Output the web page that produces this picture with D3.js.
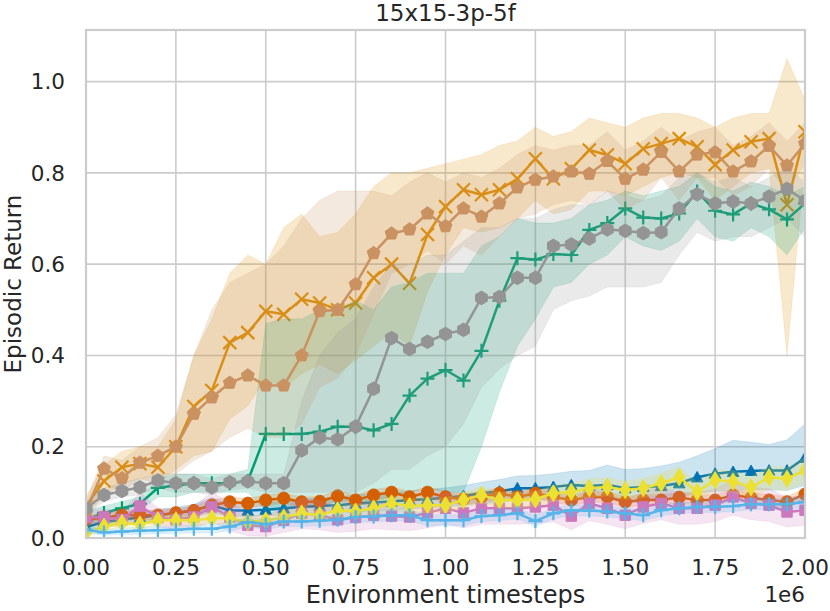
<!DOCTYPE html>
<html lang="en">
<head>
<meta charset="UTF-8">
<title>15x15-3p-5f</title>
<script src="https://d3js.org/d3.v7.min.js"></script>
<style>
    body { margin: 0; background: #fff; }
    svg { display: block; }
    text { font-family: "DejaVu Sans", sans-serif; fill: #262626; }
    .grid line { stroke: #cccccc; stroke-width: 1.6; }
</style>
</head>
<body>
<script>
// timesteps, in units of 1e6
const steps = [0, 0.05, 0.1, 0.15, 0.2, 0.25, 0.3, 0.35, 0.4, 0.45, 0.5, 0.55, 0.6, 0.65, 0.7, 0.75, 0.8, 0.85, 0.9, 0.95,
    1.0, 1.05, 1.1, 1.15, 1.2, 1.25, 1.3, 1.35, 1.4, 1.45, 1.5, 1.55, 1.6, 1.65, 1.7, 1.75, 1.8, 1.85, 1.9, 1.95, 2.0];

const xTicks = [0, 0.25, 0.5, 0.75, 1.0, 1.25, 1.5, 1.75, 2.0];
const yTicks = [0, 0.2, 0.4, 0.6, 0.8, 1.0];

// blue triangles
const blueMean = [0.024,0.035,0.040,0.045,0.050,0.055,0.060,0.072,0.060,0.060,0.062,0.065,0.068,0.070,0.072,0.075,0.078,0.080,0.083,0.085,0.088,0.092,0.098,0.102,0.109,0.109,0.112,0.116,0.114,0.116,0.109,0.112,0.114,0.120,0.133,0.141,0.145,0.147,0.148,0.148,0.176];
const blueLo = [0.015,0.025,0.030,0.033,0.038,0.042,0.046,0.055,0.047,0.047,0.048,0.050,0.052,0.054,0.055,0.058,0.060,0.062,0.064,0.066,0.068,0.071,0.076,0.078,0.083,0.083,0.085,0.088,0.086,0.088,0.082,0.085,0.086,0.090,0.098,0.102,0.104,0.106,0.105,0.104,0.115];
const blueHi = [0.034,0.045,0.051,0.057,0.062,0.068,0.074,0.089,0.074,0.074,0.077,0.081,0.085,0.087,0.090,0.094,0.097,0.099,0.103,0.106,0.110,0.115,0.122,0.128,0.136,0.137,0.141,0.146,0.148,0.160,0.150,0.152,0.158,0.166,0.180,0.196,0.214,0.210,0.205,0.215,0.250];

// orange crosses
const orangeMean = [0.070,0.125,0.155,0.163,0.155,0.200,0.288,0.323,0.428,0.450,0.497,0.490,0.523,0.515,0.500,0.515,0.570,0.600,0.558,0.665,0.726,0.763,0.752,0.763,0.787,0.831,0.787,0.809,0.850,0.839,0.820,0.853,0.864,0.875,0.857,0.818,0.850,0.868,0.875,0.730,0.890];
const orangeLo = [0.050,0.090,0.120,0.130,0.120,0.150,0.180,0.190,0.260,0.290,0.350,0.330,0.360,0.380,0.360,0.390,0.420,0.450,0.420,0.540,0.620,0.680,0.670,0.680,0.700,0.740,0.710,0.720,0.760,0.760,0.750,0.770,0.790,0.800,0.790,0.740,0.770,0.800,0.810,0.400,0.820];
const orangeHi = [0.090,0.160,0.190,0.200,0.200,0.260,0.400,0.480,0.580,0.620,0.600,0.680,0.710,0.660,0.670,0.710,0.770,0.800,0.800,0.810,0.820,0.830,0.840,0.860,0.870,0.900,0.880,0.890,0.920,0.910,0.900,0.920,0.930,0.930,0.920,0.900,0.920,0.930,0.930,1.050,0.960];

// green pluses
const greenMean = [0.040,0.055,0.065,0.075,0.110,0.115,0.120,0.120,0.120,0.125,0.228,0.228,0.228,0.233,0.244,0.244,0.236,0.250,0.312,0.349,0.368,0.345,0.410,0.520,0.613,0.610,0.622,0.620,0.675,0.690,0.722,0.702,0.700,0.711,0.759,0.717,0.709,0.733,0.720,0.698,0.733];
const greenLo = [0.020,0.040,0.050,0.060,0.090,0.090,0.100,0.100,0.100,0.100,0.060,0.060,0.070,0.070,0.080,0.080,0.080,0.090,0.100,0.110,0.100,0.100,0.200,0.320,0.420,0.480,0.550,0.560,0.600,0.620,0.660,0.640,0.630,0.650,0.700,0.660,0.650,0.680,0.660,0.620,0.680];
const greenHi = [0.060,0.070,0.080,0.090,0.130,0.140,0.140,0.140,0.140,0.150,0.470,0.480,0.480,0.500,0.500,0.520,0.500,0.550,0.560,0.580,0.580,0.580,0.640,0.660,0.700,0.690,0.690,0.700,0.730,0.740,0.760,0.750,0.760,0.770,0.800,0.770,0.760,0.780,0.770,0.750,0.770];

// vermilion circles
const redMean = [0.040,0.045,0.050,0.050,0.050,0.055,0.060,0.072,0.079,0.076,0.083,0.087,0.079,0.080,0.092,0.083,0.094,0.100,0.090,0.100,0.090,0.085,0.090,0.098,0.090,0.098,0.090,0.083,0.090,0.090,0.079,0.083,0.083,0.089,0.083,0.083,0.094,0.088,0.083,0.079,0.096];
const redLo = [0.030,0.036,0.040,0.040,0.040,0.045,0.050,0.060,0.068,0.065,0.072,0.076,0.068,0.069,0.080,0.072,0.082,0.088,0.078,0.088,0.078,0.073,0.078,0.086,0.078,0.086,0.078,0.071,0.078,0.078,0.067,0.071,0.071,0.077,0.071,0.071,0.082,0.076,0.071,0.067,0.084];
const redHi = [0.050,0.054,0.060,0.060,0.060,0.065,0.070,0.084,0.090,0.087,0.094,0.098,0.090,0.091,0.104,0.094,0.106,0.112,0.102,0.112,0.102,0.097,0.102,0.110,0.102,0.110,0.102,0.095,0.102,0.102,0.091,0.095,0.095,0.101,0.095,0.095,0.106,0.100,0.095,0.091,0.108];

// pink squares
const pinkMean = [0.045,0.046,0.040,0.070,0.045,0.040,0.046,0.068,0.046,0.028,0.025,0.039,0.054,0.050,0.040,0.045,0.050,0.048,0.046,0.055,0.065,0.055,0.065,0.065,0.065,0.068,0.072,0.048,0.076,0.065,0.050,0.068,0.076,0.065,0.065,0.072,0.090,0.076,0.072,0.057,0.061];
const pinkLo = [0.030,0.028,0.022,0.040,0.024,0.018,0.022,0.035,0.015,0.005,0.004,0.012,0.020,0.018,0.012,0.015,0.020,0.018,0.016,0.022,0.030,0.022,0.030,0.030,0.030,0.032,0.035,0.018,0.038,0.030,0.020,0.032,0.040,0.030,0.030,0.036,0.050,0.040,0.036,0.024,0.028];
const pinkHi = [0.060,0.064,0.058,0.100,0.066,0.062,0.070,0.100,0.078,0.052,0.048,0.066,0.088,0.082,0.068,0.075,0.080,0.078,0.076,0.088,0.100,0.088,0.100,0.100,0.100,0.104,0.108,0.080,0.112,0.100,0.082,0.104,0.112,0.100,0.100,0.108,0.128,0.112,0.108,0.090,0.094];

// tan pentagons
const tanMean = [0.060,0.152,0.131,0.165,0.180,0.200,0.272,0.308,0.340,0.356,0.334,0.334,0.400,0.497,0.500,0.556,0.624,0.667,0.676,0.711,0.683,0.722,0.704,0.733,0.768,0.785,0.792,0.803,0.798,0.826,0.787,0.807,0.846,0.803,0.840,0.845,0.803,0.825,0.859,0.816,0.864];
const tanLo = [0.040,0.120,0.100,0.130,0.140,0.140,0.170,0.190,0.220,0.240,0.220,0.220,0.250,0.330,0.350,0.400,0.490,0.580,0.600,0.630,0.600,0.640,0.620,0.660,0.700,0.710,0.730,0.740,0.730,0.760,0.720,0.740,0.790,0.740,0.790,0.790,0.750,0.770,0.810,0.760,0.820];
const tanHi = [0.080,0.180,0.170,0.200,0.220,0.270,0.400,0.500,0.560,0.580,0.600,0.640,0.700,0.740,0.760,0.760,0.760,0.750,0.780,0.800,0.780,0.800,0.790,0.810,0.840,0.860,0.850,0.860,0.860,0.890,0.850,0.870,0.900,0.870,0.890,0.900,0.860,0.880,0.910,0.870,0.910];

// gray hexagons
const grayMean = [0.065,0.094,0.103,0.111,0.126,0.120,0.120,0.111,0.122,0.124,0.120,0.120,0.192,0.220,0.216,0.244,0.327,0.438,0.414,0.430,0.447,0.456,0.526,0.528,0.570,0.570,0.640,0.643,0.656,0.676,0.673,0.668,0.670,0.722,0.753,0.733,0.737,0.733,0.748,0.765,0.739];
const grayLo = [0.050,0.080,0.090,0.095,0.110,0.100,0.100,0.095,0.105,0.110,0.100,0.100,0.100,0.100,0.100,0.100,0.120,0.150,0.150,0.180,0.200,0.250,0.330,0.370,0.400,0.420,0.500,0.520,0.530,0.550,0.550,0.550,0.560,0.620,0.670,0.650,0.660,0.660,0.680,0.700,0.660];
const grayHi = [0.080,0.110,0.120,0.130,0.140,0.140,0.140,0.130,0.140,0.140,0.140,0.140,0.300,0.400,0.450,0.480,0.550,0.600,0.600,0.620,0.620,0.650,0.680,0.680,0.700,0.700,0.720,0.730,0.730,0.760,0.750,0.740,0.750,0.790,0.800,0.780,0.790,0.770,0.790,0.810,0.780];

// yellow thin diamonds
const yellowMean = [0.010,0.025,0.033,0.030,0.039,0.039,0.039,0.043,0.043,0.035,0.039,0.045,0.054,0.050,0.061,0.058,0.065,0.076,0.070,0.072,0.072,0.083,0.094,0.083,0.083,0.085,0.098,0.101,0.109,0.112,0.105,0.109,0.120,0.133,0.101,0.127,0.124,0.111,0.133,0.130,0.148];
const yellowLo = [0.004,0.016,0.023,0.020,0.028,0.028,0.028,0.031,0.031,0.023,0.027,0.032,0.040,0.036,0.046,0.043,0.050,0.060,0.054,0.056,0.056,0.066,0.076,0.066,0.066,0.068,0.080,0.082,0.089,0.092,0.085,0.088,0.098,0.110,0.080,0.104,0.100,0.088,0.108,0.105,0.120];
const yellowHi = [0.018,0.034,0.043,0.040,0.050,0.050,0.050,0.055,0.055,0.047,0.051,0.058,0.068,0.064,0.076,0.073,0.080,0.092,0.086,0.088,0.088,0.100,0.112,0.100,0.100,0.102,0.116,0.120,0.129,0.132,0.125,0.130,0.142,0.156,0.122,0.150,0.148,0.134,0.158,0.155,0.176];

// light blue ticks
const skyMean = [0.018,0.012,0.014,0.016,0.017,0.018,0.020,0.020,0.025,0.035,0.030,0.036,0.036,0.038,0.040,0.046,0.047,0.050,0.050,0.039,0.039,0.039,0.048,0.050,0.054,0.037,0.054,0.061,0.060,0.058,0.054,0.050,0.061,0.065,0.068,0.068,0.070,0.074,0.074,0.074,0.079];
const skyLo = [0.010,0.006,0.007,0.008,0.009,0.010,0.011,0.011,0.015,0.024,0.019,0.025,0.025,0.027,0.028,0.034,0.035,0.038,0.038,0.027,0.027,0.027,0.036,0.038,0.042,0.025,0.042,0.049,0.048,0.046,0.042,0.038,0.049,0.053,0.056,0.056,0.058,0.062,0.062,0.062,0.067];
const skyHi = [0.026,0.019,0.021,0.024,0.025,0.026,0.029,0.029,0.035,0.046,0.041,0.047,0.047,0.049,0.052,0.058,0.059,0.062,0.062,0.051,0.051,0.051,0.060,0.062,0.066,0.049,0.066,0.073,0.072,0.070,0.066,0.062,0.073,0.077,0.080,0.080,0.082,0.086,0.086,0.086,0.091];

const series = [
    { color: "#0173b2", marker: "triangle", mean: blueMean, lo: blueLo, hi: blueHi },
    { color: "#de8f05", marker: "x", mean: orangeMean, lo: orangeLo, hi: orangeHi },
    { color: "#029e73", marker: "plus", mean: greenMean, lo: greenLo, hi: greenHi },
    { color: "#d55e00", marker: "circle", mean: redMean, lo: redLo, hi: redHi },
    { color: "#cc78bc", marker: "square", mean: pinkMean, lo: pinkLo, hi: pinkHi },
    { color: "#ca9161", marker: "pentagon", mean: tanMean, lo: tanLo, hi: tanHi },
    { color: "#949494", marker: "hexagon", mean: grayMean, lo: grayLo, hi: grayHi },
    { color: "#ece133", marker: "diamond", mean: yellowMean, lo: yellowLo, hi: yellowHi },
    { color: "#56b4e9", marker: "plus", mean: skyMean, lo: skyLo, hi: skyHi }
];

const width = 830, height = 611;
const margin = { left: 86, right: 25, top: 30, bottom: 73 };

const x = d3.scaleLinear().domain([0, 2]).range([margin.left, width - margin.right]);
const y = d3.scaleLinear().domain([0, 1.113]).range([height - margin.bottom, margin.top]);

const svg = d3.select("body").append("svg")
    .attr("width", width)
    .attr("height", height);

svg.append("clipPath").attr("id", "plotClip")
    .append("rect")
    .attr("x", margin.left).attr("y", margin.top)
    .attr("width", x.range()[1] - margin.left)
    .attr("height", y.range()[0] - margin.top);

// grid
const grid = svg.append("g").attr("class", "grid");
grid.selectAll(".vx").data(xTicks).enter().append("line")
    .attr("x1", d => x(d)).attr("x2", d => x(d))
    .attr("y1", y.range()[0]).attr("y2", y.range()[1]);
grid.selectAll(".hy").data(yTicks).enter().append("line")
    .attr("x1", x.range()[0]).attr("x2", x.range()[1])
    .attr("y1", d => y(d)).attr("y2", d => y(d));

// marker shapes, centred on 0,0
function polygon(n, r, rot) {
    const pts = d3.range(n).map(k => {
        const a = rot + k * 2 * Math.PI / n;
        return [r * Math.sin(a), -r * Math.cos(a)];
    });
    return "M" + pts.map(p => p.join(",")).join("L") + "Z";
}
function markerPath(type) {
    switch (type) {
        case "triangle": return "M0,-5.8L5.8,4.6L-5.8,4.6Z";
        case "x": return "M-6.5,-6.5L6.5,6.5M-6.5,6.5L6.5,-6.5";
        case "plus": return "M-7,0L7,0M0,-7L0,7";
        case "circle": return d3.symbol(d3.symbolCircle, Math.PI * 38)();
        case "square": return "M-5.2,-5.2L5.2,-5.2L5.2,5.2L-5.2,5.2Z";
        case "pentagon": return polygon(5, 6.8, 0);
        case "hexagon": return polygon(6, 6.8, 0);
        case "diamond": return "M0,-8.5L5.2,0L0,8.5L-5.2,0Z";
    }
}
const stroked = { x: true, plus: true };

const plot = svg.append("g").attr("clip-path", "url(#plotClip)");

const area = d3.area()
    .x((d, i) => x(steps[i]))
    .y0(d => y(d[0]))
    .y1(d => y(d[1]));
const line = d3.line()
    .x((d, i) => x(steps[i]))
    .y(d => y(d));

series.forEach(s => {
    const g = plot.append("g");
    const band = s.lo.map((v, i) => [v, s.hi[i]]);
    g.append("path")
        .datum(band)
        .attr("d", area)
        .attr("fill", s.color)
        .attr("fill-opacity", 0.2)
        .attr("stroke", s.color)
        .attr("stroke-opacity", 0.12)
        .attr("stroke-width", 1);
    g.append("path")
        .datum(s.mean)
        .attr("d", line)
        .attr("fill", "none")
        .attr("stroke", s.color)
        .attr("stroke-width", 2.5)
        .attr("stroke-linejoin", "round");
    g.selectAll(".m").data(s.mean).enter().append("path")
        .attr("transform", (d, i) => `translate(${x(steps[i])},${y(d)})`)
        .attr("d", markerPath(s.marker))
        .attr("fill", stroked[s.marker] ? "none" : s.color)
        .attr("stroke", s.color)
        .attr("stroke-width", stroked[s.marker] ? 2.2 : 1);
});

// frame
svg.append("rect")
    .attr("x", margin.left).attr("y", margin.top)
    .attr("width", x.range()[1] - margin.left)
    .attr("height", y.range()[0] - margin.top)
    .attr("fill", "none")
    .attr("stroke", "#cccccc")
    .attr("stroke-width", 2.2);

// tick labels
svg.selectAll(".xt").data(xTicks).enter().append("text")
    .attr("x", d => x(d)).attr("y", 575)
    .attr("text-anchor", "middle")
    .style("font-size", "21.5px")
    .text(d => d3.format(".2f")(d));
svg.selectAll(".yt").data(yTicks).enter().append("text")
    .attr("x", 65).attr("y", d => y(d))
    .attr("dy", "0.36em")
    .attr("text-anchor", "end")
    .style("font-size", "21.5px")
    .text(d => d3.format(".1f")(d));

svg.append("text")
    .attr("x", x.range()[1]).attr("y", 602)
    .attr("text-anchor", "end")
    .style("font-size", "21.5px")
    .text("1e6");

svg.append("text")
    .attr("x", (x.range()[0] + x.range()[1]) / 2).attr("y", 603)
    .attr("text-anchor", "middle")
    .style("font-size", "24px")
    .text("Environment timesteps");

svg.append("text")
    .attr("transform", `translate(20.5,${(y.range()[0] + y.range()[1]) / 2}) rotate(-90)`)
    .attr("text-anchor", "middle")
    .style("font-size", "23px")
    .text("Episodic Return");

svg.append("text")
    .attr("x", (x.range()[0] + x.range()[1]) / 2).attr("y", 21)
    .attr("text-anchor", "middle")
    .style("font-size", "23px")
    .text("15x15-3p-5f");
</script>
</body>
</html>
